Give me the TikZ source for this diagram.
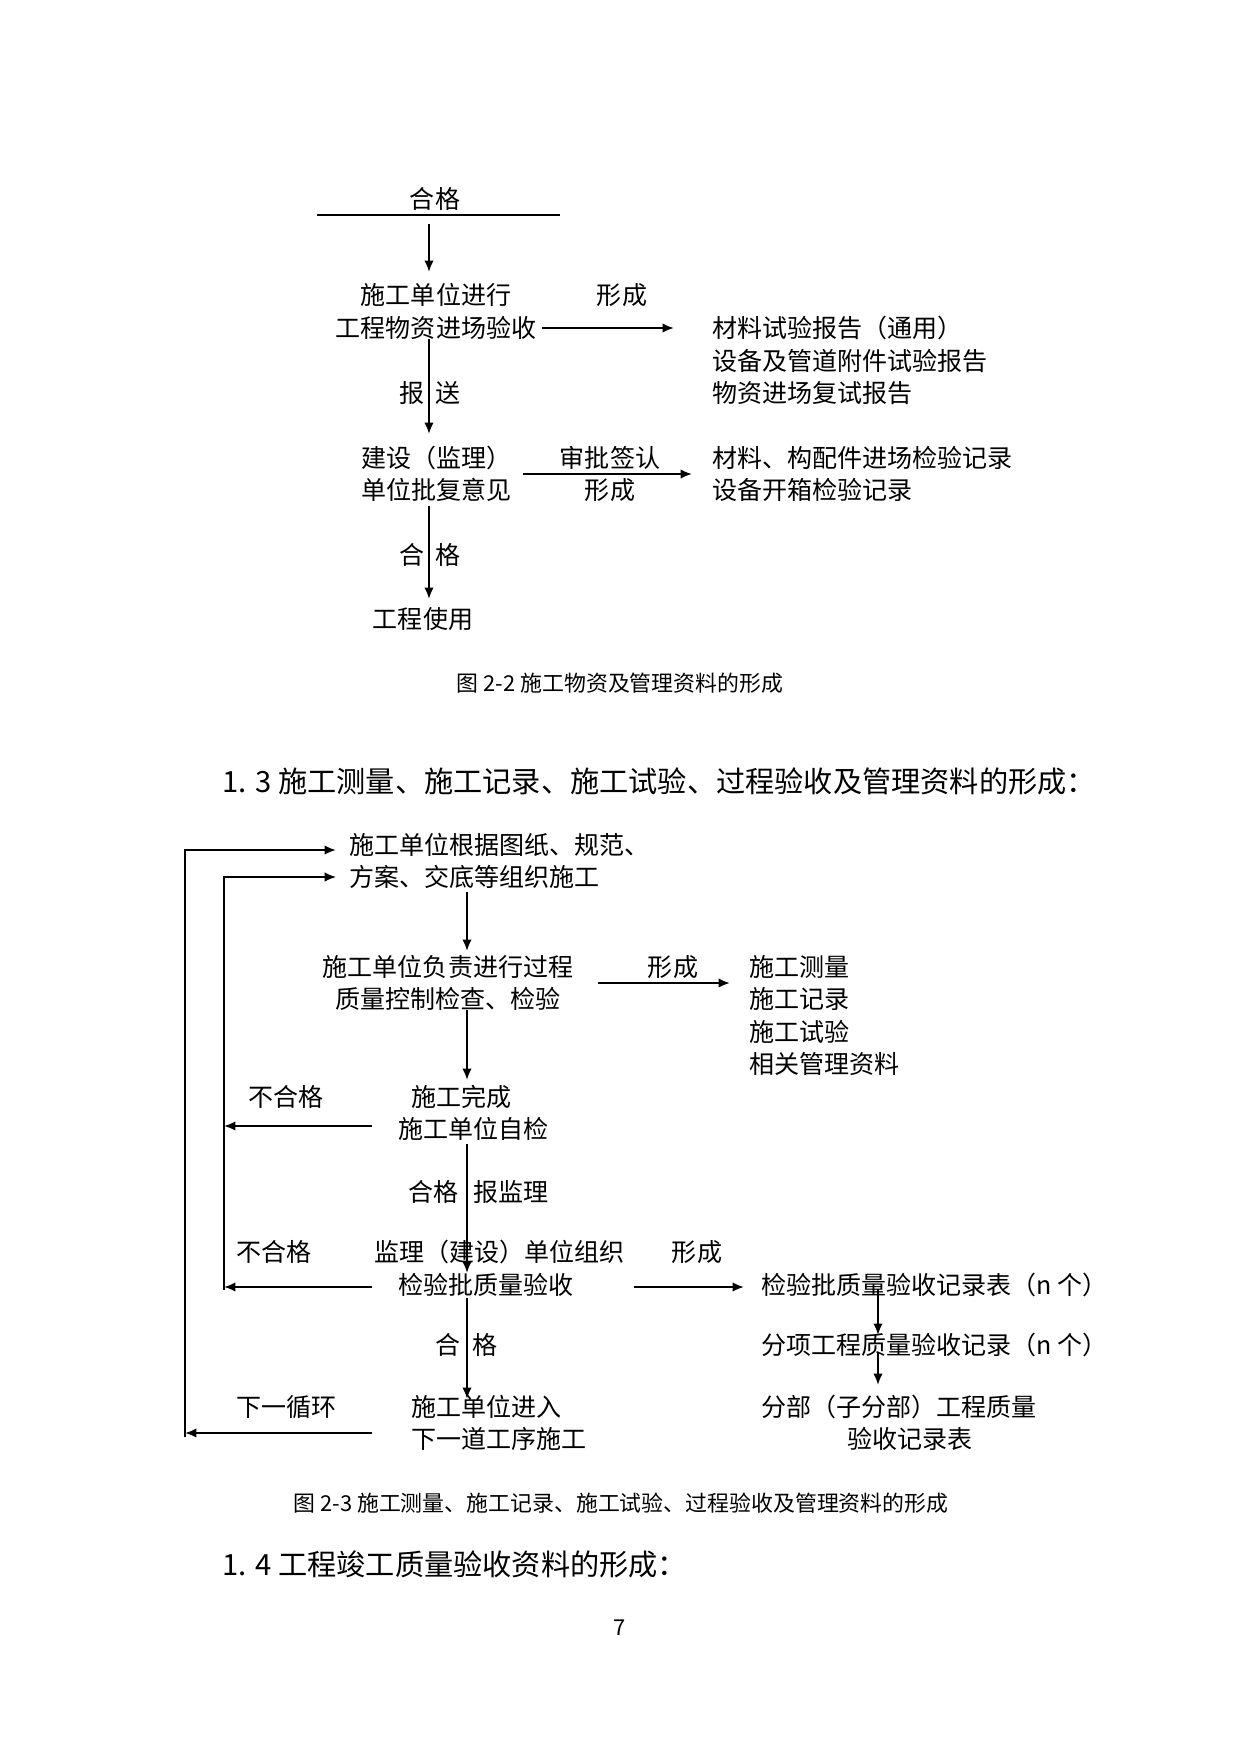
\documentclass[tikz,border=0pt]{standalone}
\usepackage{fontspec}
\setmainfont{Noto Sans CJK SC}
\usetikzlibrary{arrows,arrows.meta}

\begin{document}
\begin{tikzpicture}[x=0.4794pt,y=-0.4794pt,
  txt/.style={inner sep=0pt,font=\fontsize{12}{15.6}\selectfont},
  captext/.style={inner sep=0pt,font=\fontsize{10.5}{13}\selectfont},
  head/.style={inner sep=0pt,font=\fontsize{14}{17}\selectfont},
  flow/.style={-{Latex[length=5.5pt,width=4.6pt]},line width=1pt},
  link/.style={line width=1pt}]
  \useasboundingbox (0,0) rectangle (1241,1754);

  % figure 2-2
  \node[txt] (ok0) at (435,199) {合格};
  \coordinate (bar1) at (317,215);
  \coordinate (bar2) at (560,215);
  \draw[link] (bar1) -- (bar2);
  \node[txt,align=center] (accept) at (436,311.5) {施工单位进行\\工程物资进场验收};
  \node[txt] (form1) at (622,295) {形成};
  \node[txt,align=left,anchor=west] (report) at (712,360.5) {材料试验报告（通用）\\设备及管道附件试验报告\\物资进场复试报告};
  \node[txt] (bao) at (412,393) {报};
  \node[txt] (song) at (448,393) {送};
  \node[txt,align=left,anchor=west] (reply) at (361,474) {建设（监理）\\单位批复意见};
  \node[txt,align=center] (sign) at (610,474) {审批签认\\形成};
  \node[txt,align=left,anchor=west] (check) at (712,474) {材料、构配件进场检验记录\\设备开箱检验记录};
  \node[txt] (he1) at (412,555) {合};
  \node[txt] (ge1) at (448,555) {格};
  \node[txt] (use) at (423,619) {工程使用};
  \node[captext] (cap1) at (620,683) {图 2-2 施工物资及管理资料的形成};

  \coordinate (a1s) at (429,224);   \coordinate (a1e) at (429,272);
  \coordinate (a2s) at (542,328);   \coordinate (a2e) at (674,328);
  \coordinate (a3s) at (429,339);   \coordinate (a3e) at (429,434);
  \coordinate (a4s) at (523,474);   \coordinate (a4e) at (692,474);
  \coordinate (a5s) at (429,506);   \coordinate (a5e) at (429,599);
  \draw[flow] (a1s) -- (a1e);
  \draw[flow] (a2s) -- (a2e);
  \draw[flow] (a3s) -- (a3e);
  \draw[flow] (a4s) -- (a4e);
  \draw[flow] (a5s) -- (a5e);

  % section 1.3
  \node[head,anchor=west] (sec13) at (222,781) {1. 3 施工测量、施工记录、施工试验、过程验收及管理资料的形成：};

  % figure 2-3
  \node[txt,align=left,anchor=west] (organize) at (349,861) {施工单位根据图纸、规范、\\方案、交底等组织施工};
  \node[txt,align=center] (control) at (448,983) {施工单位负责进行过程\\质量控制检查、检验};
  \node[txt] (form2) at (673,967) {形成};
  \node[txt,align=left,anchor=west] (records) at (749,1015.5) {施工测量\\施工记录\\施工试验\\相关管理资料};
  \node[txt,anchor=west] (fail1) at (248,1097) {不合格};
  \node[txt,anchor=west] (done) at (411,1097) {施工完成};
  \node[txt,anchor=west] (self) at (398,1129) {施工单位自检};
  \node[txt,anchor=east] (ok2) at (459,1192) {合格};
  \node[txt,anchor=west] (tosup) at (473,1192) {报监理};
  \node[txt,anchor=west] (fail2) at (236,1252) {不合格};
  \node[txt,anchor=west] (sup) at (374,1252) {监理（建设）单位组织};
  \node[txt,anchor=west] (lot) at (398,1285) {检验批质量验收};
  \node[txt] (form3) at (697,1252) {形成};
  \node[txt,anchor=west] (lotrec) at (761,1285) {检验批质量验收记录表（n 个）};
  \node[txt,anchor=west] (itemrec) at (761,1345) {分项工程质量验收记录（n 个）};
  \node[txt,anchor=west] (subrec) at (761,1407) {分部（子分部）工程质量};
  \node[txt] (subrecb) at (910,1439) {验收记录表};
  \node[txt] (he3) at (448,1345) {合};
  \node[txt] (ge3) at (485,1345) {格};
  \node[txt,anchor=west] (next) at (411,1407) {施工单位进入};
  \node[txt,anchor=west] (nextb) at (411,1439) {下一道工序施工};
  \node[txt,anchor=west] (cycle) at (236,1407) {下一循环};
  \node[captext] (cap2) at (621,1503) {图 2-3 施工测量、施工记录、施工试验、过程验收及管理资料的形成};

  % section 1.4 and page number
  \node[head,anchor=west] (sec14) at (222,1564) {1. 4 工程竣工质量验收资料的形成：};
  \node[captext] (page) at (620,1628) {7};

  % loops back to the top
  \coordinate (outb) at (185,1437); \coordinate (outt) at (185,850); \coordinate (oute) at (336,850);
  \coordinate (inb) at (224,1290);  \coordinate (int) at (224,877);  \coordinate (ine) at (336,877);
  \draw[flow] (outb) -- (outt) -- (oute);
  \draw[flow,line width=0.7pt] (inb) -- (int) -- (ine);

  \coordinate (b1s) at (467,892);   \coordinate (b1e) at (467,951);
  \coordinate (b2s) at (598,983);   \coordinate (b2e) at (730,983);
  \coordinate (b3s) at (467,1010);  \coordinate (b3e) at (467,1080);
  \coordinate (b4s) at (372,1126);  \coordinate (b4e) at (224,1126);
  \coordinate (b5s) at (467,1144);  \coordinate (b5e) at (467,1273);
  \coordinate (b6s) at (372,1287);  \coordinate (b6e) at (224,1287);
  \coordinate (b7s) at (634,1287);  \coordinate (b7e) at (744,1287);
  \coordinate (b8s) at (878,1289);  \coordinate (b8e) at (878,1335);
  \coordinate (b9s) at (878,1352);  \coordinate (b9e) at (878,1385);
  \coordinate (b10s) at (467,1298); \coordinate (b10e) at (467,1399);
  \coordinate (b11s) at (372,1433); \coordinate (b11e) at (185,1433);
  \draw[flow] (b1s) -- (b1e);
  \draw[flow] (b2s) -- (b2e);
  \draw[flow] (b3s) -- (b3e);
  \draw[flow] (b4s) -- (b4e);
  \draw[flow] (b5s) -- (b5e);
  \draw[flow] (b6s) -- (b6e);
  \draw[flow] (b7s) -- (b7e);
  \draw[flow] (b8s) -- (b8e);
  \draw[flow] (b9s) -- (b9e);
  \draw[flow] (b10s) -- (b10e);
  \draw[flow] (b11s) -- (b11e);
\end{tikzpicture}
\end{document}
